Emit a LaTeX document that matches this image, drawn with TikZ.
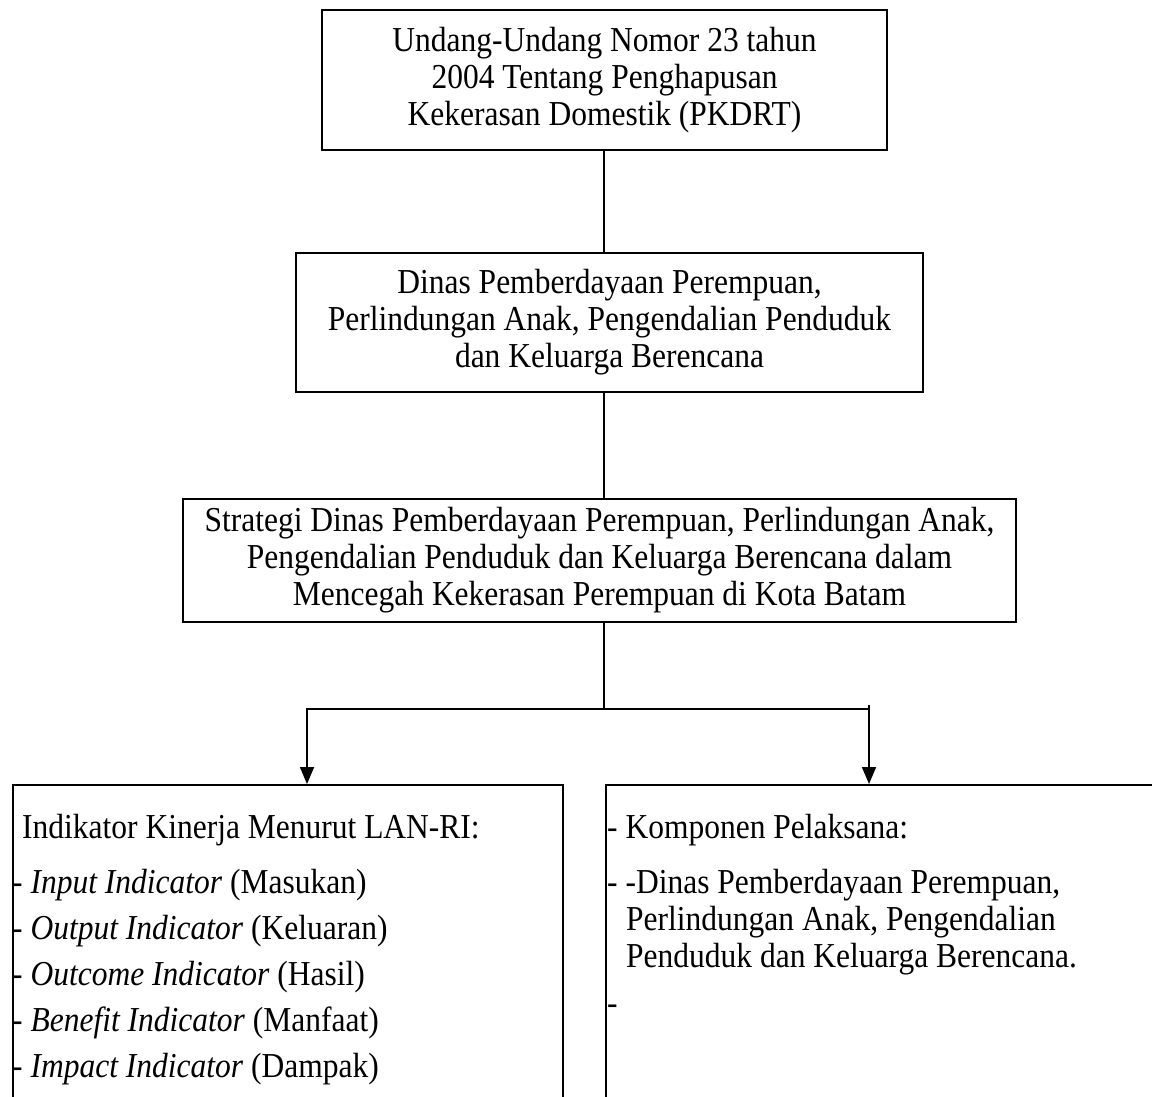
\documentclass[tikz,border=0pt]{standalone}
\usepackage{fontspec}
\setmainfont{Liberation Serif}[FakeStretch=0.9]
\usetikzlibrary{arrows.meta}
\begin{document}
\begin{tikzpicture}[x=1pt,y=-1pt,
  box/.style={draw, line width=1.8pt, align=center, inner sep=0pt, font=\fontsize{35}{37}\selectfont},
  panel/.style={draw, line width=1.8pt, inner sep=0pt, anchor=north west},
  txt/.style={anchor=base west, inner sep=0pt, font=\fontsize{35}{37}\selectfont},
  conn/.style={line width=1.8pt},
  arr/.style={conn, -{Triangle[width=14pt,length=17pt]}}]
\clip (0,0) rectangle (1152,1097);
% boxes
\node[box, minimum width=565pt, minimum height=140pt] (b1) at (604.5,80)
  {Undang-Undang Nomor 23 tahun\\2004 Tentang Penghapusan\\Kekerasan Domestik (PKDRT)};
\node[box, minimum width=627pt, minimum height=139pt] (b2) at (609.5,322.5)
  {Dinas Pemberdayaan Perempuan,\\Perlindungan Anak, Pengendalian Penduduk\\dan Keluarga Berencana};
\node[box, minimum width=833pt, minimum height=123pt] (b3) at (599.5,560.5)
  {Strategi Dinas Pemberdayaan Perempuan, Perlindungan Anak,\\Pengendalian Penduduk dan Keluarga Berencana dalam\\Mencegah Kekerasan Perempuan di Kota Batam};
\node[panel, minimum width=550pt, minimum height=340pt] (lb) at (12,784) {};
\node[panel, minimum width=560pt, minimum height=340pt] (rb) at (605,784) {};
% connectors
\coordinate (j) at (604,709);
\coordinate (lt) at (307,709);
\coordinate (rt) at (869,705);
\draw[conn] (b1.south -| j) -- (j |- b2.north);
\draw[conn] (b2.south -| j) -- (j |- b3.north);
\draw[conn] (b3.south -| j) -- (j);
\draw[arr] (j) -- (lt) -- (lt |- lb.north);
\draw[conn] (j) -- (rt |- j);
\draw[arr] (rt) -- (rt |- rb.north);
% left panel text
\node[txt] (l0) at (22,838) {Indikator Kinerja Menurut LAN-RI:};
\node[txt] (l1) at (12,893) {- \textit{Input Indicator} (Masukan)};
\node[txt] (l2) at (12,939) {- \textit{Output Indicator} (Keluaran)};
\node[txt] (l3) at (12,985) {- \textit{Outcome Indicator} (Hasil)};
\node[txt] (l4) at (12,1031) {- \textit{Benefit Indicator} (Manfaat)};
\node[txt] (l5) at (12,1077) {- \textit{Impact Indicator} (Dampak)};
% right panel text
\node[txt] (r0) at (607,838) {- Komponen Pelaksana:};
\node[txt] (r1) at (607,893) {- -Dinas Pemberdayaan Perempuan,};
\node[txt] (r2) at (626,930) {Perlindungan Anak, Pengendalian};
\node[txt] (r3) at (626,967) {Penduduk dan Keluarga Berencana.};
\node[txt] (r4) at (607,1014) {-};
\end{tikzpicture}
\end{document}
